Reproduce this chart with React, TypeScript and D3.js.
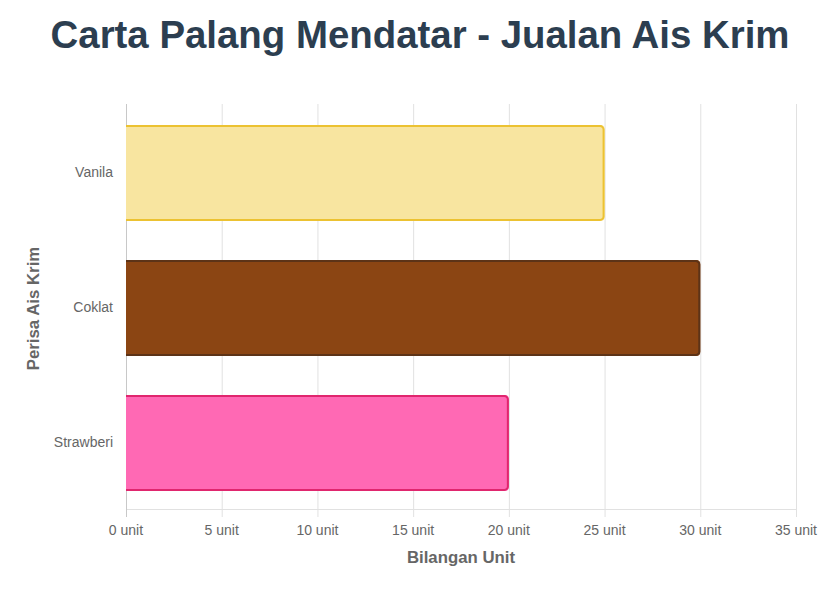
import React from 'react';
import * as d3 from 'd3';

const flavours = ['Vanila', 'Coklat', 'Strawberi'];
const units = [25, 30, 20];
const fills = ['#F8E5A0', '#8B4513', '#FF69B4'];
const borders = ['#ECC232', '#5C3317', '#E0266E'];
const xTicks = [0, 5, 10, 15, 20, 25, 30, 35];

const W = 834;
const H = 592;
const left = 126;
const right = 796;
const top = 104;
const bottom = 509;

const font = 'Liberation Sans, Arial, Helvetica, sans-serif';

export default function App() {
  const x = d3.scaleLinear().domain([0, 35]).range([left, right]);
  const y = d3.scaleBand().domain(flavours).range([top + 1.5, bottom + 1.5]).paddingInner(0.29).paddingOuter(0.145);

  // right side rounded, left edge skipped (border starts at the axis)
  const edge = (x0: number, x1: number, y0: number, y1: number, r: number) => {
    const p = d3.path();
    p.moveTo(x0, y0);
    p.lineTo(x1 - r, y0);
    p.arcTo(x1, y0, x1, y0 + r, r);
    p.lineTo(x1, y1 - r);
    p.arcTo(x1, y1, x1 - r, y1, r);
    p.lineTo(x0, y1);
    return p.toString();
  };

  const fillPath = (x0: number, x1: number, y0: number, y1: number, r: number) => edge(x0, x1, y0, y1, r) + 'Z';

  return (
    <svg width={W} height={H} style={{ position: 'absolute', left: 0, top: 0, background: '#fff' }}>
      <text x={420} y={48} textAnchor="middle" fontFamily={font} fontSize={38.4} fontWeight="bold" fill="#2C3E50">
        Carta Palang Mendatar - Jualan Ais Krim
      </text>

      {/* grid */}
      {xTicks.map(t => (
        <line key={t} x1={x(t) + 0.5} x2={x(t) + 0.5} y1={top} y2={bottom + 8} stroke="#e1e1e1" strokeWidth={1} />
      ))}
      <line x1={left} x2={right} y1={bottom + 0.5} y2={bottom + 0.5} stroke="#e1e1e1" />
      <line x1={left + 0.5} x2={left + 0.5} y1={top} y2={bottom + 8} stroke="#c8c8c8" />

      {flavours.map((f, i) => {
        const y0 = y(f)!;
        const y1 = y0 + y.bandwidth();
        const x0 = x(0);
        const x1 = x(units[i]);
        return (
          <g key={f}>
            <path d={fillPath(x0, x1, y0, y1, 4)} fill={fills[i]} />
            <path d={edge(x0, x1 - 1, y0 + 1, y1 - 1, 3.5)} fill="none" stroke={borders[i]} strokeWidth={2} />
          </g>
        );
      })}

      {flavours.map(f => (
        <text key={f} x={113} y={y(f)! + y.bandwidth() / 2 + 4} textAnchor="end" fontFamily={font} fontSize={14} fill="#666">
          {f}
        </text>
      ))}

      {xTicks.map(t => (
        <text key={t} x={x(t)} y={535} textAnchor="middle" fontFamily={font} fontSize={14} fill="#666">
          {t} unit
        </text>
      ))}

      <text x={(left + right) / 2} y={563} textAnchor="middle" fontFamily={font} fontSize={16.8} fontWeight="bold" fill="#666">
        Bilangan Unit
      </text>
      <text
        transform={`translate(39, ${(top + bottom) / 2 + 2}) rotate(-90)`}
        textAnchor="middle"
        fontFamily={font}
        fontSize={16.8}
        fontWeight="bold"
        fill="#666"
      >
        Perisa Ais Krim
      </text>
    </svg>
  );
}
